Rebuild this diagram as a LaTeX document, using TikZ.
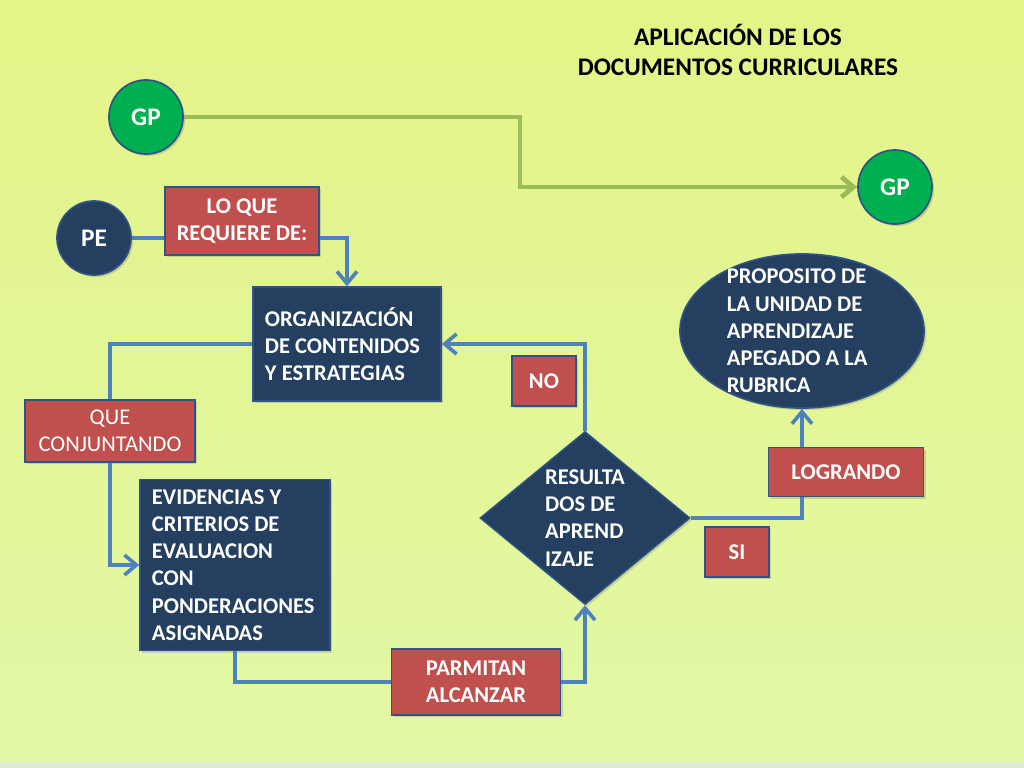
\documentclass[tikz,border=0pt]{standalone}
\usepackage{fontspec}
\setmainfont{Carlito}
\usetikzlibrary{
    arrows.meta,
    positioning,
    shapes.geometric,
    shadows}

\definecolor{bgtop}{HTML}{E4F487}
\definecolor{bgbot}{HTML}{E2F8A6}
\definecolor{bgstrip}{HTML}{DDEBD6}
\definecolor{navy}{HTML}{243F60}
\definecolor{brick}{HTML}{C0504D}
\definecolor{rim}{HTML}{2E5384}
\definecolor{linkblue}{HTML}{4F81BD}
\definecolor{gpgreen}{HTML}{9BBB59}
\definecolor{leaf}{HTML}{00B050}

\begin{document}
\begin{tikzpicture}[x=0.025cm,y=-0.025cm,
  every node/.style={inner sep=0,text=white,font=\bfseries\fontsize{16}{19.4}\selectfont},
  shade/.style={drop shadow={shadow xshift=1.5pt,shadow yshift=-1.5pt,opacity=0.3}},
  navybox/.style={rectangle,fill=navy,draw=rim,line width=1pt,shade,align=flush left},
  redbox/.style={rectangle,fill=brick,draw=rim,line width=1.2pt,shade,align=center},
  ball/.style={circle,draw=rim,line width=1.2pt,minimum size=1.85cm,shade,
    font=\bfseries\fontsize{18}{21}\selectfont},
  link/.style={draw=linkblue,line width=2.6pt},
  gpline/.style={draw=gpgreen,line width=3.4pt},
  >={Straight Barb[length=0.3cm,width=0.5cm]}]

 % background
 \useasboundingbox (0,0) rectangle (1024,768);
 \shade[top color=bgtop,bottom color=bgbot] (0,0) rectangle (1024,762);
 \fill[bgstrip] (0,762) rectangle (1024,768);

 \node[text=black,align=center,font=\bfseries\fontsize{18}{21.3}\selectfont] (title) at (738,50)
   {APLICACIÓN DE LOS\\DOCUMENTOS CURRICULARES};

 \node[ball,fill=leaf] (gp1) at (146,117) {GP};
 \node[ball,fill=leaf] (gp2) at (895,187) {GP};
 \node[ball,fill=navy] (pe) at (94,238) {PE};

 \node[redbox,minimum width=3.85cm,minimum height=1.7cm] (loque) at (242,221) {LO QUE\\REQUIERE DE:};
 \node[navybox,text width=4.1cm,inner xsep=0.3cm,minimum height=2.85cm] (org) at (347,344)
   {ORGANIZACIÓN\\DE CONTENIDOS\\Y ESTRATEGIAS};
 \node[redbox,minimum width=4.25cm,minimum height=1.55cm,font=\fontsize{16}{19.4}\selectfont] (que) at (110,431)
   {QUE\\CONJUNTANDO};
 \node[navybox,text width=4.15cm,inner xsep=0.3cm,minimum height=4.275cm] (evid) at (235,565)
   {EVIDENCIAS Y\\CRITERIOS DE\\EVALUACION\\CON\\PONDERACIONES\\ASIGNADAS};
 \node[redbox,minimum width=4.225cm,minimum height=1.65cm] (parm) at (476,682) {PARMITAN\\ALCANZAR};
 \node[diamond,aspect=1.21,fill=navy,draw=rim,line width=1pt,shade,align=flush left,
   minimum width=5.25cm,minimum height=4.325cm] (res) at (585,518)
   {RESULTA\\DOS DE\\APREND\\IZAJE};
 \node[redbox,minimum width=1.6cm,minimum height=1.25cm] (no) at (544,381) {NO};
 \node[redbox,minimum width=1.6cm,minimum height=1.25cm] (si) at (737,552) {SI};
 \node[redbox,minimum width=3.875cm,minimum height=1.225cm] (logr) at (846,472) {LOGRANDO};
 \node[ellipse,fill=navy,draw=rim,line width=1.2pt,shade,minimum width=6.1cm,minimum height=3.85cm,
   label={[align=flush left,xshift=-0.12cm]center:PROPOSITO DE\\LA UNIDAD DE\\APRENDIZAJE\\APEGADO A LA\\RUBRICA}] (prop) at (802,331) {};

 \coordinate (gpbend) at (520,150);
 \draw[gpline,->] (gp1.east) -| (gpbend) |- (gp2.west);

 \draw[link] (pe.east) -- (pe.east -| loque.west);
 \draw[link,->] (pe.east -| loque.east) -| (org.north);
 \draw[link] (org.west) -| (que.north);
 \draw[link] (evid.south) |- (parm.west);
 \draw[link,->] (parm.east) -| (res.south);
 \foreach \f/\t in {que.south/evid.west,res.north/org.east}
  \draw[link,->] (\f) |- (\t);
 \draw[link] (res.east) -| (logr.south -| prop.south);
 \draw[link,->] (logr.north -| prop.south) -- (prop.south);
\end{tikzpicture}
\end{document}
